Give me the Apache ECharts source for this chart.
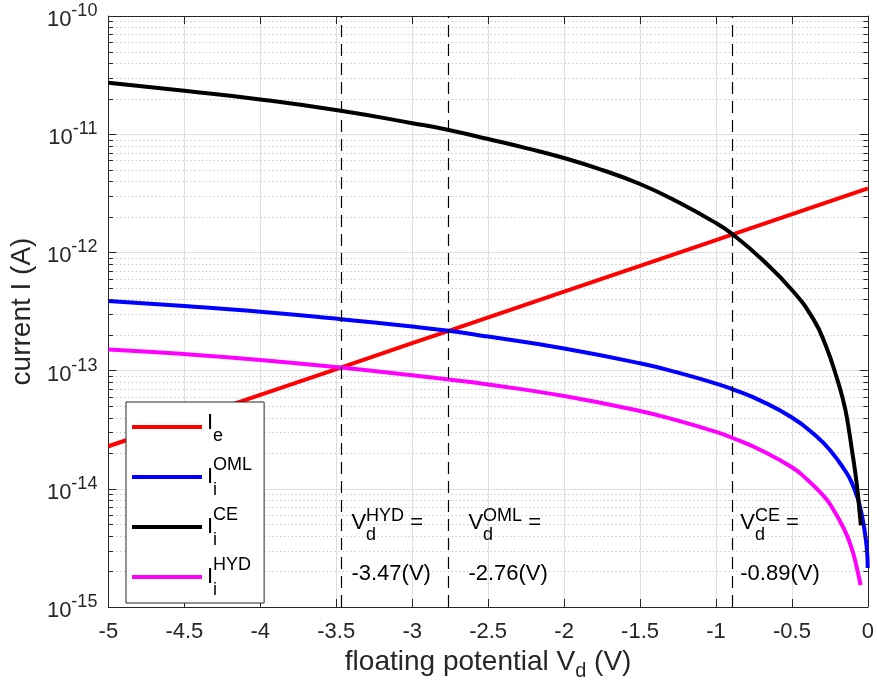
<!DOCTYPE html>
<html>
<head>
<meta charset="utf-8">
<script src="https://cdn.jsdelivr.net/npm/echarts@6/dist/echarts.min.js"></script>
<style>
html, body { margin: 0; padding: 0; background: #fff; }
#chart { width: 877px; height: 696px; }
</style>
</head>
<body>
<div id="chart"></div>
<script>
// Floating potential V_d (V) and the collected currents (A)
const vE = [-5, -4, -3.47, -3, -2.76, -2, -1, -0.89, 0];
const iE = [2.29e-14, 6.24e-14, 1.06e-13, 1.71e-13, 2.17e-13, 4.66e-13, 1.27e-12, 1.42e-12, 3.48e-12];

const vOML = [-5, -4.5, -4, -3.47, -3, -2.76, -2.5, -2, -1.5, -1.25, -1, -0.89, -0.7, -0.5, -0.36, -0.25, -0.14, -0.1, -0.07, -0.05, -0.03, -0.015, -0.005, -0.001];
const iOML = [3.88e-13, 3.52e-13, 3.15e-13, 2.72e-13, 2.36e-13, 2.17e-13, 1.94e-13, 1.54e-13, 1.153e-13, 9.61e-14, 7.76e-14, 6.95e-14, 5.52e-14, 4.01e-14, 2.94e-14, 2.13e-14, 1.36e-14, 1.08e-14, 8.53e-15, 6.89e-15, 5.14e-15, 3.84e-15, 2.92e-15, 2.14e-15];

const vCE = [-5, -4.5, -4, -3.47, -3, -2.76, -2.5, -2.25, -2, -1.75, -1.5, -1.25, -1, -0.89, -0.7, -0.5, -0.36, -0.28, -0.2, -0.16, -0.14, -0.105, -0.074, -0.052, -0.046];
const iCE = [2.73e-11, 2.33e-11, 1.97e-11, 1.58e-11, 1.24e-11, 1.087e-11, 9.1e-12, 7.63e-12, 6.29e-12, 4.98e-12, 3.79e-12, 2.67e-12, 1.77e-12, 1.42e-12, 8.79e-13, 4.81e-13, 2.74e-13, 1.66e-13, 8.3e-14, 5.42e-14, 4.13e-14, 2.13e-14, 1.12e-14, 5.89e-15, 4.9e-15];

const vHYD = [-5, -4.5, -4, -3.47, -3, -2.76, -2.5, -2, -1.5, -1.25, -1, -0.89, -0.7, -0.5, -0.4, -0.3, -0.25, -0.16, -0.107, -0.074, -0.048];
const iHYD = [1.51e-13, 1.38e-13, 1.23e-13, 1.06e-13, 9.12e-14, 8.41e-14, 7.63e-14, 6.09e-14, 4.55e-14, 3.77e-14, 3.03e-14, 2.69e-14, 2.11e-14, 1.52e-14, 1.2e-14, 8.95e-15, 7.43e-15, 4.66e-15, 3.15e-15, 2.18e-15, 1.53e-15];

// Floating potentials where the electron current balances each ion current
const crossV = [-3.47, -2.76, -0.89];
const crossTag = ['HYD', 'OML', 'CE'];

// Axis ranges
const xRange = [-5, 0];
const xStep = 0.5;
const yRange = [1e-15, 1e-10];

// Placement of the annotation text (data units)
const noteX = [-3.4, -2.63, -0.84];
const noteY = [5.1e-15, 1.9e-15];

const FONT = '"Liberation Sans", Arial, Helvetica, sans-serif';
const INK = '#262626';

const pairs = (xs, ys) => xs.map((x, i) => [x, ys[i]]);

const legendText = {
  'I_e': '{bE|I}{se|e}',
  'I_i^OML': '{b|I}{si|i}{sp|OML}',
  'I_i^CE': '{b|I}{si|i}{sp|CE}',
  'I_i^HYD': '{b|I}{si|i}{sp|HYD}'
};

const tok = (o) => Object.assign({ fontFamily: FONT, color: '#000' }, o);

const baseAxis = {
  axisLine: { show: true, onZero: false, lineStyle: { color: INK, width: 1 } },
  axisTick: { show: true, inside: true, length: 8, lineStyle: { color: INK, width: 1 } }
};

const curve = (name, xs, ys, color, smooth) => ({
  name: name, type: 'line', data: pairs(xs, ys), showSymbol: false,
  smooth: smooth,
  lineStyle: { color: color, width: 4 }, itemStyle: { color: color }
});

const chart = echarts.init(document.getElementById('chart'));

const series = [
  curve('I_e', vE, iE, '#ff0000', false),
  curve('I_i^OML', vOML, iOML, '#0000ff', 0.5),
  curve('I_i^CE', vCE, iCE, '#000000', 0.5),
  curve('I_i^HYD', vHYD, iHYD, '#ff00ff', 0.5)
];
// dashed markers at the balance potentials
series[0].markLine = {
  silent: true, symbol: ['none', 'none'], label: { show: false },
  lineStyle: { color: '#000', width: 1.2, type: [12, 7] },
  data: crossV.map((v) => ({ xAxis: v }))
};

const option = {
  animation: false,
  textStyle: { fontFamily: FONT },
  grid: { left: 106, right: 9, top: 16, bottom: 89, containLabel: false },
  xAxis: [
    Object.assign({
      type: 'value', min: xRange[0], max: xRange[1], interval: xStep,
      axisLabel: {
        color: INK, fontSize: 22, fontFamily: FONT, margin: 14,
        showMinLabel: true, showMaxLabel: true,
        formatter: (v) => String(+v.toFixed(2))
      },
      splitLine: { show: true, lineStyle: { color: '#dfdfdf', width: 1 } },
      name: '{n|floating potential V}{sd|d}{n| (V)}',
      nameLocation: 'middle', nameGap: 40,
      nameTextStyle: {
        color: INK, fontSize: 28, fontFamily: FONT,
        rich: {
          n: tok({ color: INK, fontSize: 28, lineHeight: 28, padding: [0, 0, 12, 0] }),
          sd: tok({ color: INK, fontSize: 20, lineHeight: 20, padding: [14, 0, 6, 0] })
        }
      }
    }, baseAxis),
    Object.assign({
      type: 'value', min: xRange[0], max: xRange[1], interval: xStep, position: 'top',
      axisLabel: { show: false }, splitLine: { show: false }
    }, baseAxis)
  ],
  yAxis: [
    Object.assign({
      type: 'log', logBase: 10, min: yRange[0], max: yRange[1],
      axisLabel: {
        margin: 11, color: INK,
        formatter: (v) => '{b|10}{s|' + Math.round(Math.log10(v)) + '}',
        rich: {
          b: tok({ color: INK, fontSize: 22, lineHeight: 22, padding: [8, 0, 0, 0] }),
          s: tok({ color: INK, fontSize: 18, lineHeight: 18, padding: [0, 0, 10, 0] })
        }
      },
      splitLine: { show: true, lineStyle: { color: '#dfdfdf', width: 1 } },
      name: 'current I (A)',
      nameLocation: 'middle', nameGap: 70,
      nameTextStyle: { color: INK, fontSize: 28, fontFamily: FONT }
    }, baseAxis),
    Object.assign({
      type: 'log', logBase: 10, min: yRange[0], max: yRange[1], position: 'right',
      axisLabel: { show: false }, splitLine: { show: false }
    }, baseAxis)
  ],
  legend: {
    orient: 'vertical', left: 126, top: 402,
    icon: 'rect', itemWidth: 70, itemHeight: 4, itemGap: 2,
    padding: [1, 12, 2, 6],
    backgroundColor: '#fff', borderColor: INK, borderWidth: 1,
    selectedMode: false,
    data: ['I_e', 'I_i^OML', 'I_i^CE', 'I_i^HYD'],
    formatter: (name) => legendText[name],
    textStyle: {
      color: '#000', fontFamily: FONT, fontSize: 22,
      rich: {
        b: tok({ fontSize: 22, lineHeight: 22, padding: [11, 0, 11, 0] }),
        bE: tok({ fontSize: 22, lineHeight: 22, padding: [7, 0, 15, 0] }),
        se: tok({ fontSize: 18, lineHeight: 14, padding: [24, 0, 6, 0] }),
        si: tok({ fontSize: 18, lineHeight: 14, padding: [28, 0, 2, 0], width: 0 }),
        sp: tok({ fontSize: 18, lineHeight: 14, padding: [3, 0, 27, 0] })
      }
    }
  },
  series: series
};

chart.setOption(option);

// Log-axis minor grid, minor ticks and the potential annotations
const px = (x) => chart.convertToPixel({ xAxisIndex: 0 }, x);
const py = (y) => chart.convertToPixel({ yAxisIndex: 0 }, y);
const L = px(xRange[0]), R = px(xRange[1]);
const elems = [];
const d0 = Math.round(Math.log10(yRange[0])), d1 = Math.round(Math.log10(yRange[1]));
for (let n = d0; n < d1; n++) {
  for (let k = 2; k <= 9; k++) {
    const y = Math.round(py(k * Math.pow(10, n))) + 0.5;
    elems.push({ type: 'line', silent: true, z: 0,
      shape: { x1: L, y1: y, x2: R, y2: y },
      style: { stroke: '#c4c4c4', lineWidth: 1, lineDash: [1.3, 2.6] } });
    elems.push({ type: 'line', silent: true, z: 10,
      shape: { x1: L, y1: y, x2: L + 4.5, y2: y }, style: { stroke: INK, lineWidth: 1 } });
    elems.push({ type: 'line', silent: true, z: 10,
      shape: { x1: R - 4.5, y1: y, x2: R, y2: y }, style: { stroke: INK, lineWidth: 1 } });
  }
}

const noteRich = {
  b: tok({ fontSize: 22, lineHeight: 22, padding: [10, 0, 10, 0] }),
  sd: tok({ fontSize: 18, lineHeight: 14, padding: [25.5, 0, 2.5, 0], width: 0 }),
  sp: tok({ fontSize: 18, lineHeight: 14, padding: [6.5, 0, 21.5, 0] })
};
crossV.forEach((v, i) => {
  const x = px(noteX[i]);
  elems.push({ type: 'text', silent: true, z: 10,
    style: { x: x, y: py(noteY[0]), text: '{b|V}{sd|d}{sp|' + crossTag[i] + '}{b| =}',
      rich: noteRich, fill: '#000', fontFamily: FONT, fontSize: 22, align: 'left', verticalAlign: 'middle' } });
  elems.push({ type: 'text', silent: true, z: 10,
    style: { x: x, y: py(noteY[1]), text: v.toFixed(2) + '(V)',
      fill: '#000', fontFamily: FONT, fontSize: 22, align: 'left', verticalAlign: 'middle' } });
});

chart.setOption({ graphic: { elements: elems } });
</script>
</body>
</html>
